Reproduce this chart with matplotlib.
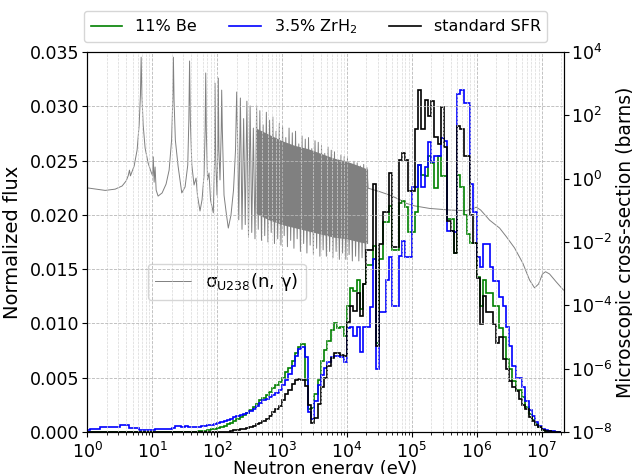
import numpy as np
import matplotlib.pyplot as plt

# energy group structure: 20 equal-lethargy bins per decade, 1 eV .. 20 MeV
edges = 10 ** (np.arange(147) / 20)

# normalized flux per group (x 1e-3)
flux_be = [0]*34 + [
    0.05, 0.08, 0.12, 0.18, 0.25, 0.3,
    0.35, 0.45, 0.55, 0.7, 0.85, 1.0, 1.15, 1.35, 1.55, 1.75,
    2.0, 2.3, 2.6, 2.9, 3.1, 3.4, 3.7, 4.0, 4.3, 4.6,
    5.0, 5.5, 5.9, 6.5, 7.3, 7.8, 8.1, 4.8, 2.1, 2.2,
    3.5, 4.8, 6.5, 7.5, 8.4, 9.4, 10.0, 9.6, 9.7, 8.8,
    11.6, 13.3, 13.0, 14.0, 11.3, 13.6, 15.4, 15.4, 17.1, 8.2,
    15.9, 19.3, 19.3, 20.8, 16.8, 16.8, 21.1, 21.3, 20.7, 18.4,
    18.4, 20.3, 24.6, 23.7, 23.6, 25.4, 24.8, 22.5, 25.4, 23.6,
    23.6, 19.6, 19.6, 16.5, 23.7, 22.6, 20.0, 18.2, 17.4, 17.4,
    14.3, 11.6, 14.0, 12.8, 12.8, 11.6, 11.6, 9.6, 8.7, 6.7,
    5.8, 4.7, 3.9, 3.9, 3.2, 2.3, 1.6, 1.1, 0.7, 0.4,
    0.2, 0.1, 0.05, 0.02, 0.0, 0.0]

flux_zrh = [
    0.15, 0.3, 0.3, 0.3, 0.45, 0.45, 0.45, 0.45, 0.45, 0.45,
    0.6, 0.6, 0.6, 0.35, 0.35, 0.35, 0.15, 0.15, 0.2, 0.2,
    0.2, 0.3, 0.3, 0.25, 0.3, 0.3, 0.35, 0.5, 0.5, 0.45,
    0.5, 0.4, 0.4, 0.45, 0.45, 0.5, 0.55, 0.6, 0.65, 0.75,
    0.8, 0.9, 1.0, 1.1, 1.2, 1.35, 1.45, 1.55, 1.65, 1.75,
    1.9, 2.1, 2.4, 2.7, 2.9, 3.0, 3.2, 3.4, 3.6, 3.9,
    4.3, 4.8, 5.3, 6.1, 7.0, 7.6, 7.8, 6.9, 1.8, 1.2,
    2.8, 4.3, 5.2, 5.9, 6.4, 6.9, 7.0, 7.0, 6.9, 6.4,
    9.6, 9.7, 8.8, 9.7, 7.4, 9.7, 9.7, 11.5, 15.9, 5.8,
    11.0, 11.0, 14.0, 16.1, 11.6, 11.6, 16.2, 17.6, 16.1, 16.1,
    22.6, 22.6, 24.6, 22.6, 24.4, 26.7, 24.9, 25.4, 25.4, 27.1,
    26.8, 18.5, 18.5, 18.4, 31.1, 31.5, 30.3, 30.3, 22.8, 20.3,
    16.1, 15.2, 17.3, 17.3, 15.2, 13.9, 13.9, 12.4, 11.6, 9.7,
    7.9, 6.1, 5.0, 5.0, 4.1, 2.8, 2.0, 1.45, 0.9, 0.5,
    0.3, 0.15, 0.08, 0.03, 0.01, 0.0]

flux_sfr = [0]*44 + [
    0.1, 0.15, 0.2, 0.25, 0.3, 0.35,
    0.45, 0.55, 0.7, 0.85, 1.0, 1.2, 1.5, 1.8, 2.1, 2.4,
    2.9, 3.5, 3.9, 4.4, 4.8, 4.9, 4.8, 4.2, 2.5, 0.8,
    1.3, 2.6, 4.1, 5.0, 6.1, 6.8, 7.3, 7.3, 7.1, 7.0,
    10.1, 11.6, 11.1, 12.8, 10.7, 13.6, 16.8, 16.8, 22.8, 7.9,
    17.3, 20.3, 20.3, 23.9, 17.0, 17.0, 25.1, 25.7, 25.1, 22.2,
    22.2, 27.9, 31.5, 27.9, 30.6, 29.1, 30.5, 27.2, 26.5, 29.9,
    26.3, 19.4, 18.5, 16.5, 28.2, 27.9, 25.4, 25.4, 20.0, 17.4,
    14.2, 9.9, 12.5, 11.0, 11.0, 9.9, 8.2, 8.7, 6.7, 5.8,
    4.7, 4.1, 3.8, 3.0, 2.5, 2.1, 1.4, 1.0, 0.6, 0.4,
    0.15, 0.08, 0.03, 0.01, 0.0, 0.0]

# U238 (n,gamma) cross section, log10(E/eV) and log10(sigma/b)
xs_logE = [
    0.000, 0.277, 0.431, 0.538, 0.600, 0.631, 0.651, 0.666, 0.723, 0.769,
    0.800, 0.820, 0.831, 0.843, 0.862, 0.892, 0.938, 0.985, 1.008, 1.018,
    1.031, 1.046, 1.062, 1.092, 1.154, 1.215, 1.262, 1.300, 1.318, 1.328,
    1.338, 1.358, 1.400, 1.457, 1.508, 1.549, 1.566, 1.577, 1.589, 1.612,
    1.646, 1.677, 1.700, 1.738, 1.769, 1.800, 1.817, 1.826, 1.835, 1.854,
    1.877, 1.900, 1.943, 1.962, 1.969, 1.980, 2.000, 2.012, 2.020, 2.029,
    2.046, 2.065, 2.072, 2.082, 2.108, 2.146, 2.174, 2.215, 2.254, 2.285,
    2.303, 2.320,
    2.335, 2.36, 2.385, 2.41, 2.435, 2.46, 2.485, 2.51, 2.535, 2.56,
    2.585, 2.61, 2.635, 2.66, 2.685, 2.71, 2.735, 2.76, 2.785, 2.81,
    2.835, 2.86, 2.885, 2.91, 2.935, 2.96, 2.985, 3.01, 3.035, 3.06,
    3.085, 3.11, 3.135, 3.16, 3.185, 3.21, 3.235, 3.26, 3.285, 3.31,
    3.335, 3.36, 3.385, 3.41, 3.435, 3.46, 3.485, 3.51, 3.535, 3.56,
    3.585, 3.61, 3.635, 3.66, 3.685, 3.71, 3.735, 3.76, 3.785, 3.81,
    3.835, 3.86, 3.885, 3.91, 3.935, 3.96, 3.985, 4.01, 4.035, 4.06,
    4.085, 4.11, 4.135, 4.16, 4.185, 4.21, 4.235, 4.26, 4.285, 4.31,
    4.328, 4.508, 4.662, 4.815, 4.918, 5.046, 5.277, 5.585, 5.842, 5.923,
    5.995, 6.062, 6.200, 6.354, 6.457, 6.585, 6.712, 6.815, 6.892, 6.954,
    7.015, 7.062, 7.123, 7.226, 7.338]
xs_logS = [
    -0.29, -0.37, -0.33, -0.23, -0.07, 0.09, 0.27, 0.09, 0.40, 0.91,
    1.70, 2.64, 3.84, 2.64, 1.70, 0.97, 0.50, 0.21, 0.09, 0.69,
    -0.11, 0.37, -0.36, -0.55, -0.45, -0.17, 0.27, 1.22, 2.48, 3.84,
    2.48, 1.22, 0.40, -0.45, -0.26, 0.43, 1.85, 3.72, 1.85, 0.43,
    -0.20, 0.02, -0.55, -1.02, -0.67, 0.12, 1.54, 3.34, 1.54, -0.04,
    0.18, -0.67, -1.08, 0.59, 3.02, 0.59, -0.52, 0.91, 3.18, 0.91,
    -0.04, 1.54, 2.80, 1.54, -0.52, -1.15, -1.56, -1.15, -0.36, 0.91,
    2.74, 0.91,
    -1.3, 2.55, -1.6, 1.9, -1.45, 2.45, -1.85, 2.3, -1.7, 1.6,
    -1.9, 2.3, -1.6, 2.15, -1.95, 1.7, -1.8, 2.1, -2.0, 1.85,
    -1.7, 1.95, -2.05, 1.5, -1.9, 1.75, -2.1, 1.65, -1.8, 1.3,
    -2.15, 1.6, -1.95, 1.45, -2.2, 1.5, -1.9, 1.1, -2.3, 1.35,
    -2.05, 1.25, -2.35, 1.3, -2.1, 0.95, -2.4, 1.2, -2.2, 1.15,
    -2.45, 1.05, -2.25, 0.8, -2.45, 1.0, -2.3, 0.9, -2.5, 0.85,
    -2.3, 0.6, -2.55, 0.75, -2.35, 0.7, -2.55, 0.65, -2.4, 0.45,
    -2.6, 0.55, -2.45, 0.5, -2.6, 0.4, -2.5, 0.45, -2.65, 0.35,
    -0.30, -0.41, -0.52, -0.66, -0.78, -0.86, -0.94, -0.99, -1.01, -0.96,
    -0.90, -0.99, -1.31, -1.56, -1.83, -2.19, -2.67, -3.20, -3.45, -3.33,
    -3.01, -2.94, -3.01, -3.26, -3.52]

# dense resonance band (solid core of the resolved region)
band_logE = [2.60, 2.80, 3.00, 3.20, 3.40, 3.60, 3.80, 4.00, 4.20, 4.32]
band_top = [1.6, 1.4, 1.2, 1.05, 0.95, 0.8, 0.65, 0.55, 0.4, 0.3]
band_bot = [-1.1, -1.3, -1.45, -1.55, -1.65, -1.75, -1.85, -1.9, -2.0, -2.05]

labels = ["11% Be", "3.5% ZrH$_\\mathregular{2}$", "standard SFR"]
colors = ["green", "blue", "black"]

fig, ax = plt.subplots(figsize=(6.32, 4.74), dpi=100)
fig.subplots_adjust(left=0.138, right=0.892, bottom=0.089, top=0.89)
ax2 = ax.twinx()
ax.set_zorder(ax2.get_zorder() + 1)
ax.patch.set_visible(False)

# cross section on the right axis
E_xs = 10 ** np.array(xs_logE)
ax2.fill_between(10 ** np.array(band_logE), 10 ** np.array(band_bot),
                 10 ** np.array(band_top), color="gray", lw=0)
ax2.plot(E_xs, 10 ** np.array(xs_logS), color="gray", lw=0.7,
         label="σ$_\\mathregular{U238}$(n, γ)")
ax2.set_yscale("log")
ax2.set_ylim(1e-8, 1e4)
ax2.set_ylabel("Microscopic cross-section (barns)", fontsize=13.5, labelpad=2)
ax2.tick_params(labelsize=12.5, pad=2)
ax2.legend(loc="center left", bbox_to_anchor=(0.108, 0.395), fontsize=13,
           handlelength=2.0)

# flux spectra on the left axis
for vals, lab, col in zip([flux_be, flux_zrh, flux_sfr], labels, colors):
    ax.stairs(np.array(vals) * 1e-3, edges, color=col, lw=1.2, label=lab)

ax.set_xscale("log")
ax.set_xlim(1, 2.2e7)
ax.set_ylim(0, 0.035)
ax.set_xlabel("Neutron energy (eV)", fontsize=13, labelpad=-1)
ax.set_ylabel("Normalized flux", fontsize=14, labelpad=6)
ax.tick_params(axis="y", labelsize=12.5, pad=2)
ax.tick_params(axis="x", labelsize=12.5)
ax.grid(which="major", ls="--", color="#b8b8b8", lw=0.6)
ax.grid(which="minor", axis="x", ls="--", color="#d8d8d8", lw=0.5)
ax.legend(loc="center", bbox_to_anchor=(0.4995, 0.944),
          bbox_transform=fig.transFigure, ncol=3, fontsize=11.5)

fig.savefig("out.png", dpi=100)
